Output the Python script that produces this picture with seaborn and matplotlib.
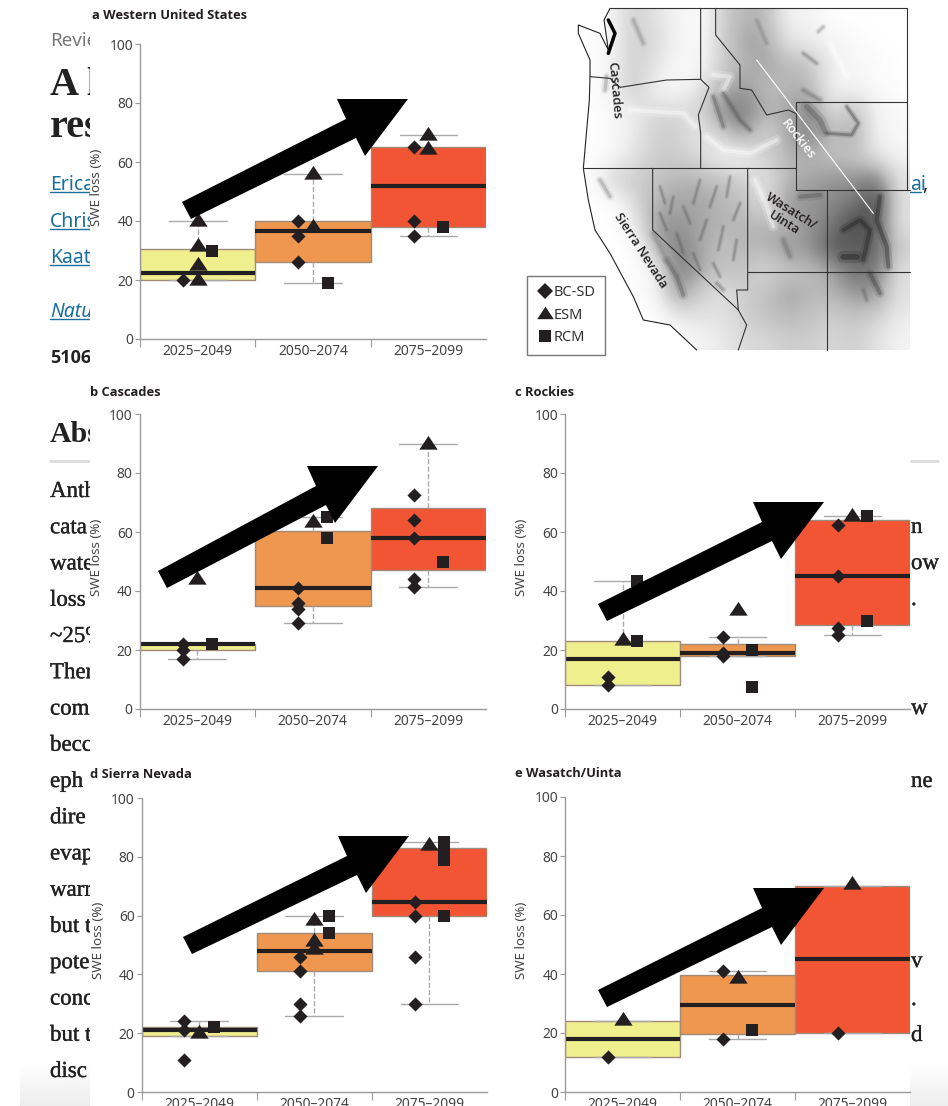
"""
plot.py - SWE loss boxes per period for five western US regions, with map inset.
"""

import numpy as np
import pandas as pd
import matplotlib
matplotlib.use("Agg")
import matplotlib.pyplot as plt
import matplotlib.patheffects as pe
from matplotlib.lines import Line2D
from matplotlib.patches import Polygon, Rectangle
import seaborn as sns

sns.set_theme(style="ticks")
plt.rcParams["font.family"] = ["Noto Sans", "DejaVu Sans"]

W, H = 948, 1106

# ── Data ─────────────────────────────────────────────────────────────────────
PERIODS = ["2025–2049", "2050–2074", "2075–2099"]
YTICKS = [0, 20, 40, 60, 80, 100]

# five-number summaries per period: low whisker, q1, median, q3, high whisker
a_box = [[20, 20, 22.5, 30.5, 40], [19, 26, 36.5, 40, 56], [35, 38, 52, 65, 69]]
a_bcsd = [[20], [40, 35, 26], [65, 40, 35]]
a_esm = [[40, 31.5, 25, 20], [56, 38], [69, 64.5]]
a_rcm = [[30], [19], [38]]

b_box = [[17, 20, 22, 22, 22], [29, 35, 41, 60.5, 65], [41.5, 47, 58, 68.3, 90]]
b_bcsd = [[22, 20, 17], [41, 36, 34, 29], [72.5, 64, 58, 44, 41.5]]
b_esm = [[44], [63.5], [90]]
b_rcm = [[22], [65, 58], [50]]

c_box = [[8, 8, 17, 23, 43.5], [18, 18, 19, 22, 24.5], [25, 28.5, 45, 64, 65.5]]
c_bcsd = [[11, 8], [24.5, 19, 18], [62.5, 45, 27.5, 25]]
c_esm = [[23.5], [33.5], [65.5]]
c_rcm = [[43.5, 23], [20, 7.5], [65.5, 30]]

d_box = [[19, 19, 21, 22, 24], [26, 41, 48, 54, 60], [30, 60, 64.5, 83, 85]]
d_bcsd = [[24, 21, 11], [46, 41, 30, 26], [64.5, 60, 46, 30]]
d_esm = [[20], [58.5, 51.5, 48.5], [84]]
d_rcm = [[22], [60, 54], [85, 82, 79, 60]]

e_box = [[12, 12, 18, 24, 24], [18, 19.5, 29.5, 39.5, 41], [20, 20, 45, 70, 70]]
e_bcsd = [[12], [41, 18], [20]]
e_esm = [[24.5], [38.5], [70.5]]
e_rcm = [[], [21], []]

# relief darkness, coarse grid
relief = np.array([
    [0, .1, .3, .2, .1, .0, .3, .4, .4, .1, .1, .0, .0, .0, .0],
    [0, .1, .3, .25, .1, .05, .3, .45, .45, .2, .15, .1, .05, 0, 0],
    [0, .1, .3, .2, .05, .05, .3, .4, .45, .4, .35, .15, .05, .05, 0],
    [0, .1, .35, .1, .05, .2, .4, .5, .35, .4, .4, .1, .1, .05, 0],
    [0, .05, .15, .25, .25, .25, .55, .6, .4, .45, .55, .2, .4, .1, .05],
    [0, .05, .15, .3, .3, .15, .3, .5, .25, .45, .6, .35, .45, .1, .05],
    [0, .05, .2, .3, .3, .25, .1, .1, .3, .4, .4, .35, .35, .2, .1],
    [0, .3, .3, .35, .4, .4, .35, .3, .2, .4, .45, .5, .5, .6, .2],
    [0, 0, .25, .4, .45, .45, .4, .35, .2, .5, .5, .55, .6, .8, .2],
    [0, 0, .1, .5, .5, .45, .4, .4, .4, .4, .5, .6, .8, .7, .2],
    [0, 0, 0, .4, .6, .45, .35, .4, .4, .5, .5, .75, .7, .7, .3],
    [0, 0, 0, .1, .6, .45, .35, .35, .25, .35, .35, .45, .65, .6, .2],
    [0, 0, 0, .1, .5, .3, .2, .3, .35, .45, .4, .4, .5, .5, .2],
    [0, 0, 0, 0, .2, .2, .2, .3, .35, .4, .35, .3, .35, .3, .15],
    [0, 0, 0, 0, 0, .1, .15, .25, .25, .3, .3, .25, .3, .2, .1],
])

# ── Styling ──────────────────────────────────────────────────────────────────
BOX_COLORS = dict(zip(PERIODS, ["#F0EF8E", "#EF974F", "#F15533"]))
INK = "#231F20"
AXIS = "#9A9A9A"
LABEL = "#444444"
LINK = "#1A6F9E"
SERIF = "Liberation Serif"
HEAD = "Open Sans"
TRIANGLE = [(-8, -4.5), (8, -4.5), (0, 7.5)]
MARKERS = {"bcsd": ("D", 52, -0.127), "esm": (TRIANGLE, 175, 0.0), "rcm": ("s", 80, 0.127)}

fig = plt.figure(figsize=(W / 100, H / 100), dpi=100, facecolor="white")


def pixel_axes(zorder):
    ax = fig.add_axes([0, 0, 1, 1], zorder=zorder)
    ax.set_xlim(0, W)
    ax.set_ylim(H, 0)
    ax.axis("off")
    return ax


def chart_axes(left, right, top, bottom):
    ax = fig.add_axes([left / W, 1 - bottom / H, (right - left) / W, (bottom - top) / H], zorder=1)
    ax.patch.set_alpha(0)
    return ax


pix = pixel_axes(0)
over = pixel_axes(2)

# ── Page behind the figure ───────────────────────────────────────────────────
heavy = [pe.withStroke(linewidth=0.25, foreground="#222222")]
fade = np.linspace(1, 0.93, 32).reshape(-1, 1)
pix.imshow(fade, extent=(20, W, H, 1062), cmap="gray", vmin=0, vmax=1, aspect="auto", zorder=0)
pix.set_xlim(0, W)
pix.set_ylim(H, 0)

pix.text(50, 46, "Revie", color="#777777", fontsize=13.5, zorder=1)
pix.text(50, 95, "A l", family=SERIF, fontweight="bold", fontsize=29, color="#222222", zorder=1)
pix.text(50, 137, "res", family=SERIF, fontweight="bold", fontsize=29, color="#222222", zorder=1)
for name, base in zip(["Erica", "Chris", "Kaat"], [190, 227, 263]):
    pix.text(50, base, name, color=LINK, fontsize=14, zorder=1)
    pix.plot([50, 90], [base + 1.5, base + 1.5], color=LINK, lw=1, zorder=1)
pix.text(50, 317, "Natu", color=LINK, fontsize=14, style="italic", zorder=1)
pix.plot([50, 90], [318.5, 318.5], color=LINK, lw=1, zorder=1)
pix.text(50, 363, "5106", family=HEAD, color="#222222", fontsize=13, fontweight="bold", zorder=1)
pix.text(50, 442, "Abs", family=SERIF, fontweight="bold", fontsize=21.5, color="#222222", zorder=1)
pix.plot([50, 90], [460.5, 460.5], color="#DDDDDD", lw=2, zorder=1)
pix.plot([911, 938], [460.5, 460.5], color="#DDDDDD", lw=2, zorder=1)

body_words = ["Anth", "cata", "wate", "loss", "~25%", "Ther", "com", "becc", "eph", "dire",
              "evap", "warr", "but t", "pote", "conc", "but t", "disc"]
for i, word in enumerate(body_words):
    pix.text(50, 497 + 36.25 * i, word, family=SERIF, fontsize=16.5, color="#222222", zorder=1,
             path_effects=heavy)

right_words = [("n", 533), ("ow", 569), (".", 605), ("w", 714), ("ne", 787), ("v", 967), (".", 1005), ("d", 1041)]
for word, base in right_words:
    pix.text(911, base, word, family=SERIF, fontsize=16.5, color="#222222", zorder=1, path_effects=heavy)
pix.text(910, 190, "ai", color=LINK, fontsize=14, zorder=1)
pix.text(922, 190, ",", color="#222222", fontsize=14, zorder=1)
pix.plot([910, 921], [191.5, 191.5], color=LINK, lw=1, zorder=1)

pix.add_patch(Rectangle((90, 0), 820, H, facecolor="white", edgecolor="none", zorder=2))

# ── Map inset ────────────────────────────────────────────────────────────────
def zoomed(points):
    return [(510 + x / 3, y / 3) for x, y in points]


coast = zoomed([(300, 25), (282, 60), (295, 150), (270, 100), (205, 75), (205, 100), (240, 180),
                (240, 230), (238, 300), (220, 505), (235, 600), (255, 690), (300, 760), (370, 890),
                (400, 960), (480, 975), (560, 1050)])
land = coast + zoomed([(1200, 1050), (1200, 25)])
borders = [
    [(240, 230), (300, 235), (330, 262), (470, 240), (572, 238)],
    [(572, 25), (572, 238), (597, 262), (565, 345), (572, 400), (572, 505)],
    [(220, 505), (857, 505)],
    [(617, 25), (617, 105), (690, 195), (690, 265), (725, 270), (770, 345), (835, 330), (857, 340)],
    [(857, 307), (1190, 307)],
    [(857, 307), (857, 570), (1200, 570)],
    [(1190, 25), (1190, 570)],
    [(300, 25), (1190, 25)],
    [(428, 505), (428, 690), (685, 930), (710, 975), (685, 1050)],
    [(713, 505), (713, 870), (680, 870), (685, 930)],
    [(713, 815), (1200, 815)],
    [(952, 570), (952, 1050)],
]
# hand traced ridges: darkness, width, polyline
ridges = [
    (.7, 3, [(470, 780), (500, 830), (520, 885)]),
    (.5, 3, [(430, 700), (470, 780)]),
    (.8, 2, [(1010, 320), (1045, 370), (1025, 405), (950, 400)]),
    (.7, 4, [(890, 320), (930, 360), (945, 395)]),
    (.9, 3, [(1110, 590), (1100, 660), (1130, 740), (1135, 800)]),
    (.95, 4, [(1000, 770), (1040, 770)]),
    (.9, 3, [(1000, 690), (1050, 660), (1080, 690), (1060, 780)]),
    (.8, 3, [(1080, 820), (1110, 880)]),
    (.7, 3, [(870, 590), (930, 585)]),
    (.6, 3, [(820, 720), (840, 770)]),
    (.7, 2.5, [(640, 280), (690, 360), (720, 390)]),
    (.7, 2.5, [(610, 290), (640, 380)]),
    (.6, 2.5, [(880, 270), (930, 300)]),
    (.5, 2.5, [(370, 60), (400, 130)]),
    (.5, 2.5, [(290, 230), (285, 270)]),
    (.5, 2.5, [(270, 540), (300, 590)]),
    (.5, 2, [(740, 60), (770, 130)]),
    (.6, 2, [(880, 160), (920, 190)]),
    (.5, 2, [(940, 80), (925, 95)]),
    (.6, 2, [(620, 850), (640, 870)]),
    (.6, 2, [(1060, 870), (1070, 900)]),
]
# basin and range streaks in Nevada, one grey
streaks = [
    [(450, 560), (465, 610)], [(490, 590), (480, 640)], [(520, 620), (540, 670)],
    [(570, 540), (550, 610)], [(620, 560), (600, 620)], [(660, 530), (650, 590)],
    [(690, 610), (670, 660)], [(590, 660), (570, 720)], [(640, 680), (625, 750)],
    [(500, 700), (520, 760)], [(550, 760), (570, 810)], [(610, 790), (630, 830)],
    [(680, 720), (670, 780)], [(450, 640), (470, 690)],
]
# pale valleys and plains
valleys = [
    [(590, 410), (640, 450), (720, 460), (800, 420)],
    [(735, 540), (770, 620), (790, 680)],
    [(610, 225), (660, 230), (640, 270)],
    [(960, 130), (1010, 230)],
    [(1150, 120), (1100, 240)],
    [(360, 330), (520, 340), (555, 380)],
]

relief_img = pix.imshow(relief, extent=(578, 910, 350, 8), cmap="Greys", vmin=0, vmax=1,
                        interpolation="bicubic", aspect="auto", zorder=3)
land_clip = Polygon(land, transform=pix.transData)
relief_img.set_clip_path(land_clip)
pix.set_xlim(0, W)
pix.set_ylim(H, 0)

# each stroke twice, wide and faint under narrow, so the edges stay soft
for shade, width, line in ridges:
    for lw, alpha in [(width * 2.2, 0.15), (width, 0.35)]:
        pix.plot(*zip(*zoomed(line)), color=str(1 - shade), lw=lw, alpha=alpha, zorder=3.2,
                 solid_capstyle="round", clip_path=land_clip)
for line in streaks:
    for lw, alpha in [(3.6, 0.12), (1.6, 0.3)]:
        pix.plot(*zip(*zoomed(line)), color="#555555", lw=lw, alpha=alpha, zorder=3.2,
                 solid_capstyle="round", clip_path=land_clip)
for line in valleys:
    for lw, alpha in [(7, 0.2), (3, 0.4)]:
        pix.plot(*zip(*zoomed(line)), color="white", lw=lw, alpha=alpha, zorder=3.1,
                 solid_capstyle="round", clip_path=land_clip)

pix.plot(*zip(*coast), color="#222222", lw=0.8, zorder=4)
for line in borders:
    pix.plot(*zip(*zoomed(line)), color="#333333", lw=0.8, zorder=4)
pix.plot(*zip(*zoomed([(295, 60), (315, 100), (295, 160)])), color="black", lw=2.5, zorder=4)
pix.plot(*zip(*zoomed([(740, 180), (1090, 640)])), color="white", lw=0.8, zorder=4)

map_labels = [("Cascades", 614, 90, -85, INK), ("Rockies", 798, 139, -52, "white"),
              ("Sierra Nevada", 641, 250, -57, INK), ("Wasatch/\nUinta", 788, 217, -32, INK)]
for text, x, y, angle, color in map_labels:
    pix.text(x, y, text, family=HEAD, rotation=angle, rotation_mode="anchor", ha="center", va="center",
             fontsize=9.3, color=color, fontweight="semibold", linespacing=1.0, zorder=5)

handles = [
    Line2D([], [], marker="D", color=INK, ls="", ms=8.5, mew=0, label="BC-SD"),
    Line2D([], [], marker=TRIANGLE, color=INK, ls="", ms=12, mew=0, label="ESM"),
    Line2D([], [], marker="s", color=INK, ls="", ms=9, mew=0, label="RCM"),
]
legend = pix.legend(handles=handles, loc="upper left", bbox_to_anchor=(527 / W, 1 - 276 / H),
                    bbox_transform=fig.transFigure, fontsize=10.5, labelcolor="#333333",
                    frameon=True, fancybox=False, framealpha=1, edgecolor="#777777",
                    borderpad=0.65, labelspacing=0.5, handletextpad=0.0, handlelength=1.15,
                    borderaxespad=0)
legend.set_zorder(6)


# ── Panels ───────────────────────────────────────────────────────────────────
def draw_panel(bounds, box, bcsd, esm, rcm):
    ax = chart_axes(*bounds)
    frame = pd.DataFrame({
        "period": [p for p, row in zip(PERIODS, box) for _ in row],
        "loss": [v for row in box for v in row],
    })
    # quartiles of five values land exactly on the summary, whiskers reach min/max
    sns.boxplot(data=frame, x="period", y="loss", hue="period", order=PERIODS, hue_order=PERIODS,
                palette=BOX_COLORS, width=1, gap=0, whis=(0, 100), saturation=1, legend=False,
                linewidth=1, linecolor="#A08A7A", fliersize=0, ax=ax,
                medianprops={"color": INK, "linewidth": 3, "solid_capstyle": "butt"},
                whiskerprops={"color": "#AAAAAA", "linestyle": "--", "linewidth": 1},
                capprops={"color": "#AAAAAA", "linewidth": 1})

    for key, series in zip(["bcsd", "esm", "rcm"], [bcsd, esm, rcm]):
        marker, size, shift = MARKERS[key]
        xs = [i + shift for i, row in enumerate(series) for _ in row]
        ys = [v for row in series for v in row]
        sns.scatterplot(x=xs, y=ys, marker=marker, s=size, color=INK, linewidth=0, zorder=5,
                        clip_on=False, ax=ax)

    ax.set_xlim(-0.5, 2.5)
    ax.set_ylim(0, 100)
    ax.set_xticks([-0.5, 0.5, 1.5])
    ax.set_xticklabels([])
    ax.set_xticks([0, 1, 2], minor=True)
    ax.set_xticklabels(PERIODS, minor=True, fontsize=10, color=LABEL)
    ax.tick_params(axis="x", which="major", length=5.5, width=0.8, color=AXIS)
    ax.tick_params(axis="x", which="minor", length=0, pad=3.5)
    ax.set_yticks(YTICKS)
    ax.set_yticklabels(YTICKS, fontsize=10, color=LABEL)
    ax.tick_params(axis="y", length=3.5, width=0.8, color=AXIS, pad=1.5)
    ax.set_xlabel("")
    ax.set_ylabel("SWE loss (%)", fontsize=9.6, color=LABEL)
    ax.yaxis.set_label_coords(-37 / (bounds[1] - bounds[0]), 0.515)
    sns.despine(ax=ax)
    for side in ["left", "bottom"]:
        ax.spines[side].set_color(AXIS)
        ax.spines[side].set_linewidth(1)
    return ax


draw_panel((140, 486, 44, 339), a_box, a_bcsd, a_esm, a_rcm)
draw_panel((139.5, 486, 414, 709), b_box, b_bcsd, b_esm, b_rcm)
draw_panel((565, 910, 414, 709), c_box, c_bcsd, c_esm, c_rcm)
draw_panel((141.5, 487, 798, 1092), d_box, d_bcsd, d_esm, d_rcm)
draw_panel((565, 910, 797, 1092), e_box, e_bcsd, e_esm, e_rcm)

titles = [("a", "Western United States", 92, 19), ("b", "Cascades", 90, 396), ("c", "Rockies", 515, 396),
          ("d", "Sierra Nevada", 90, 778), ("e", "Wasatch/Uinta", 515, 777)]
for letter, name, x, base in titles:
    over.text(x, base, f"{letter} {name}", family=HEAD, fontsize=9.3, fontweight="bold", color=INK)


# ── Arrows ───────────────────────────────────────────────────────────────────
def big_arrow(tip, tail):
    tx, ty = tip
    verts = [tail, (tx - 62, ty + 20), (tx - 71, ty), tip, (tx - 43, ty + 57), (tx - 52, ty + 39),
             (tail[0] + 9, tail[1] + 17)]
    over.add_patch(Polygon(verts, closed=True, facecolor="black", edgecolor="none"))


big_arrow((408, 99), (182, 202))
big_arrow((378, 466), (158, 571))
big_arrow((824, 502), (598, 604))
big_arrow((409, 836), (183, 937))
big_arrow((824, 888), (598, 990))

fig.savefig("out.png", dpi=100)
print("saved out.png")
